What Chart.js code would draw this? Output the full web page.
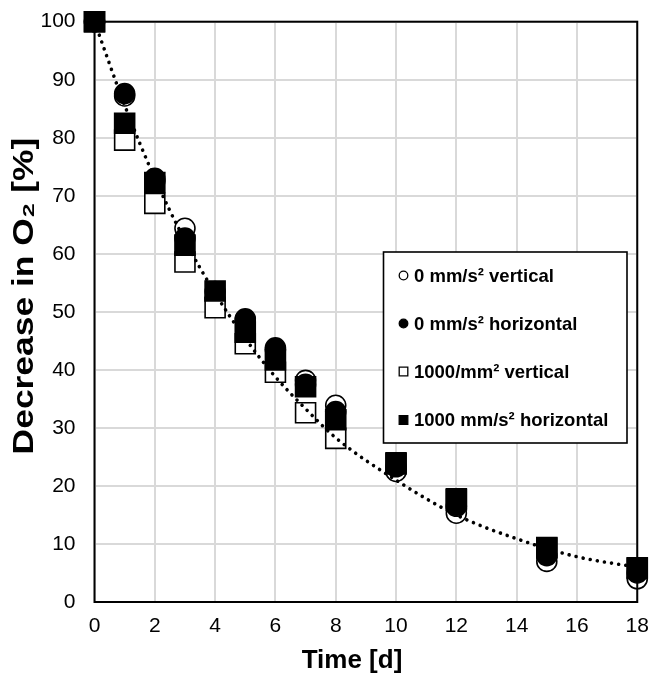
<!DOCTYPE html>
<html><head><meta charset="utf-8">
<script src="https://cdn.jsdelivr.net/npm/chart.js@4.4.1/dist/chart.umd.min.js"></script>
<style>html,body{margin:0;padding:0;background:#fff;} #wrap{width:653px;height:676px;position:relative;}</style>
</head><body><div id="wrap"><canvas id="c"></canvas></div>
<script>
// ---- data ----
const days = [0, 1, 2, 3, 4, 5, 6, 7, 8, 10, 12, 15, 18];
const vertical0 = [100, 87.2, 72.5, 64.4, 52.3, 48.6, 43.5, 38.2, 33.9, 22.5, 15.3, 7.0, 4.0];
const horizontal0 = [100, 87.6, 73.0, 62.7, 53.5, 48.8, 43.8, 37.5, 32.8, 23.3, 16.5, 8.0, 5.0];
const vertical1000 = [100, 79.6, 68.7, 58.6, 50.7, 44.5, 39.6, 32.6, 28.2, 23.8, 17.6, 9.3, 5.8];
const horizontal1000 = [100, 82.5, 72.3, 61.5, 53.6, 46.5, 41.7, 37.1, 31.4, 24.0, 17.8, 9.4, 5.9];
const trendDays = [0, 1, 2, 3, 4, 5, 6, 7, 8, 10, 12, 14, 16, 18];
const trendValues = [100, 85.6, 73.0, 62.3, 53.2, 45.4, 38.8, 33.3, 28.3, 21.0, 15.0, 10.9, 7.8, 6.0];
const seriesLabels = ['0 mm/s\u00B2 vertical', '0 mm/s\u00B2 horizontal', '1000/mm\u00B2 vertical', '1000 mm/s\u00B2 horizontal'];
const xAxisTitle = 'Time [d]';
const yAxisTitle = 'Decrease in O\u2082 [%]';

const FONT = '"Liberation Sans", Arial, sans-serif';
const pts = (xs, ys) => xs.map((x, i) => ({x: x, y: ys[i]}));

const markerStyles = [
  {style: 'circle', fill: '#ffffff'},
  {style: 'circle', fill: '#000000'},
  {style: 'rect', fill: '#ffffff'},
  {style: 'rect', fill: '#000000'}
];
const seriesValues = [vertical0, horizontal0, vertical1000, horizontal1000];

const datasets = seriesValues.map((vals, i) => ({
  label: seriesLabels[i],
  data: pts(days, vals),
  showLine: false,
  pointStyle: markerStyles[i].style,
  pointRadius: markerStyles[i].style === 'rect' ? 14.14 : 10,
  pointBackgroundColor: markerStyles[i].fill,
  pointBorderColor: '#000',
  pointBorderWidth: 1.6,
  order: 4 - i,
  clip: false
}));
datasets.push({
  label: 'trend',
  data: pts(trendDays, trendValues),
  showLine: true,
  borderColor: '#000',
  borderWidth: 3.6,
  borderDash: [0.01, 7.2],
  borderCapStyle: 'round',
  cubicInterpolationMode: 'monotone',
  pointRadius: 0,
  order: 0,
  clip: false
});

const framePlugin = {
  id: 'frameAndLegend',
  afterDatasetsDraw(chart) {
    const {ctx, chartArea: a} = chart;
    ctx.save();
    ctx.strokeStyle = '#000';
    ctx.lineWidth = 2;
    ctx.strokeRect(a.left, a.top, a.right - a.left, a.bottom - a.top);
    // legend box
    const bx = 383.5, by = 252, bw = 243.5, bh = 191;
    ctx.fillStyle = '#fff';
    ctx.fillRect(bx, by, bw, bh);
    ctx.lineWidth = 1.6;
    ctx.strokeRect(bx, by, bw, bh);
    const rows = [275.5, 323.5, 371.5, 420];
    ctx.font = 'bold 18.5px ' + FONT;
    ctx.textBaseline = 'middle';
    ctx.textAlign = 'left';
    seriesLabels.forEach((lab, i) => {
      const cy = rows[i], cx = 403.5;
      const m = markerStyles[i];
      ctx.fillStyle = m.fill;
      ctx.strokeStyle = '#000';
      ctx.lineWidth = 1.3;
      ctx.beginPath();
      if (m.style === 'circle') ctx.arc(cx, cy, 4.3, 0, Math.PI * 2);
      else ctx.rect(cx - 4.3, cy - 4.3, 8.6, 8.6);
      ctx.fill(); ctx.stroke();
      ctx.fillStyle = '#000';
      ctx.fillText(lab, 414, cy + 1);
    });
    // axis titles
    ctx.fillStyle = '#000';
    ctx.textAlign = 'center';
    ctx.textBaseline = 'middle';
    ctx.font = 'bold 26px ' + FONT;
    ctx.fillText(xAxisTitle, 352, 661);
    ctx.save();
    ctx.translate(25, 296);
    ctx.rotate(-Math.PI / 2);
    ctx.scale(1.18, 1);
    ctx.font = 'bold 30px ' + FONT;
    ctx.fillText(yAxisTitle, 0, 0);
    ctx.restore();
    ctx.restore();
  }
};

new Chart(document.getElementById('c'), {
  type: 'scatter',
  data: {datasets: datasets},
  options: {
    responsive: true,
    maintainAspectRatio: false,
    animation: false,
    events: [],
    layout: {padding: {top: 21.7, right: 15, left: 0, bottom: 0}},
    plugins: {legend: {display: false}, tooltip: {enabled: false}},
    scales: {
      x: {
        type: 'linear', min: 0, max: 18,
        afterFit: s => { s.height = 74; s.paddingLeft = 0; s.paddingRight = 0; },
        ticks: {stepSize: 2, color: '#000', padding: 12, font: {family: FONT, size: 21}},
        grid: {color: '#d9d9d9', lineWidth: 2, drawTicks: false},
        border: {display: false},
        title: {display: false}
      },
      y: {
        type: 'linear', min: 0, max: 100,
        afterFit: s => { s.width = 94.5; s.paddingTop = 0; s.paddingBottom = 0; },
        ticks: {stepSize: 10, color: '#000', padding: 19, font: {family: FONT, size: 21}},
        grid: {color: '#d9d9d9', lineWidth: 2, drawTicks: false},
        border: {display: false},
        title: {display: false}
      }
    }
  },
  plugins: [framePlugin]
});
</script></body></html>
